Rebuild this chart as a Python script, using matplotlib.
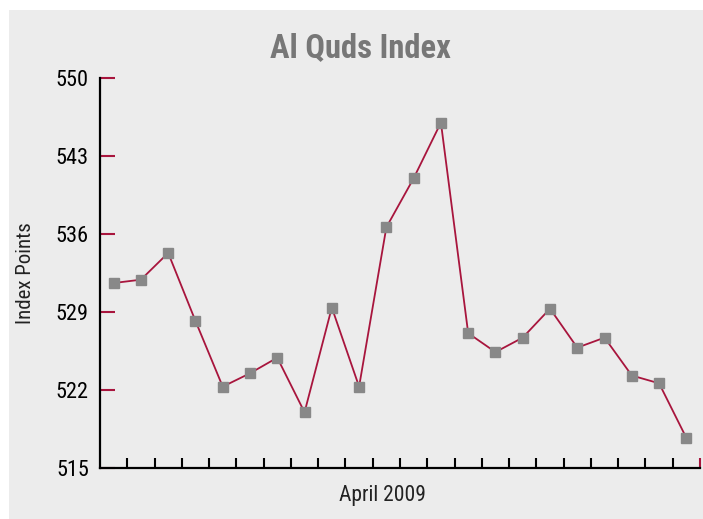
import numpy as np
import matplotlib
matplotlib.use("Agg")
import matplotlib.pyplot as plt
from matplotlib import font_manager

# ---- data ----
title = "Al Quds Index"
x_label = "April 2009"
y_label = "Index Points"
values = [531.6, 531.9, 534.3, 528.2, 522.3, 523.5, 524.9, 520.0, 529.4, 522.3,
          536.6, 541.0, 546.0, 527.1, 525.4, 526.7, 529.3, 525.8, 526.7, 523.3,
          522.6, 517.7]
y_ticks = [515, 522, 529, 536, 543, 550]

names = {f.name for f in font_manager.fontManager.ttflist}
narrow = None
for cand in ["Liberation Sans Narrow", "Roboto Condensed", "DejaVu Sans Condensed"]:
    if cand in names:
        narrow = cand
        break
if narrow is None:
    narrow = "DejaVu Sans"

LINE = "#a8153d"
MARK = "#888888"
BG = "#ececec"

W, H = 703, 519
fig = plt.figure(figsize=(W / 100, H / 100), dpi=100)
fig.patch.set_facecolor("white")
# gray panel
panel = plt.Rectangle((9 / W, 0), 1 - 9 / W + 0.01, 1 - 10 / H, transform=fig.transFigure,
                      facecolor=BG, edgecolor="none", zorder=-10)
fig.patches.append(panel)

ax = fig.add_axes([100 / W, (H - 468) / H, 600 / W, 390 / H])
ax.set_zorder(5)
ax.patch.set_alpha(0)

n = len(values)
x = np.arange(n) + 0.5
ax.plot(x, values, color=LINE, lw=1.3, zorder=2, clip_on=False)
ax.plot(x, values, ls="none", marker="s", ms=6.6, mfc=MARK, mec=MARK, zorder=3, clip_on=False)

ax.set_xlim(0, n)
ax.set_ylim(y_ticks[0], y_ticks[-1])

for s in ["top", "right"]:
    ax.spines[s].set_visible(False)
for s in ["left", "bottom"]:
    ax.spines[s].set_linewidth(1.6)
    ax.spines[s].set_color("black")

ax.set_yticks(y_ticks)
ax.set_yticklabels([str(t) for t in y_ticks])
ax.tick_params(axis="y", direction="in", length=11, width=1.5, color=LINE,
               pad=8, labelsize=16)
for lab in ax.get_yticklabels():
    lab.set_fontfamily(narrow)

ax.set_xticks(np.arange(1, n))
ax.set_xticklabels([])
ax.tick_params(axis="x", which="major", direction="in", length=7.5, width=1.5, color="black")
ax.set_xticks([n], minor=True)
ax.tick_params(axis="x", which="minor", direction="in", length=7.5, width=1.5, color=LINE)

fig.text(360 / W, 1 - 48 / H, title, ha="center", va="center", fontsize=23.5,
         fontweight="bold", color="#777777", family=narrow)
fig.text(382 / W, 1 - 496 / H, x_label, ha="center", va="center", fontsize=15.5,
         color="#222222", family=narrow)
fig.text(26 / W, 1 - 273 / H, y_label, ha="center", va="center", fontsize=15,
         rotation=90, color="#222222", family=narrow)

fig.savefig("out.png", dpi=100, facecolor=fig.get_facecolor())
